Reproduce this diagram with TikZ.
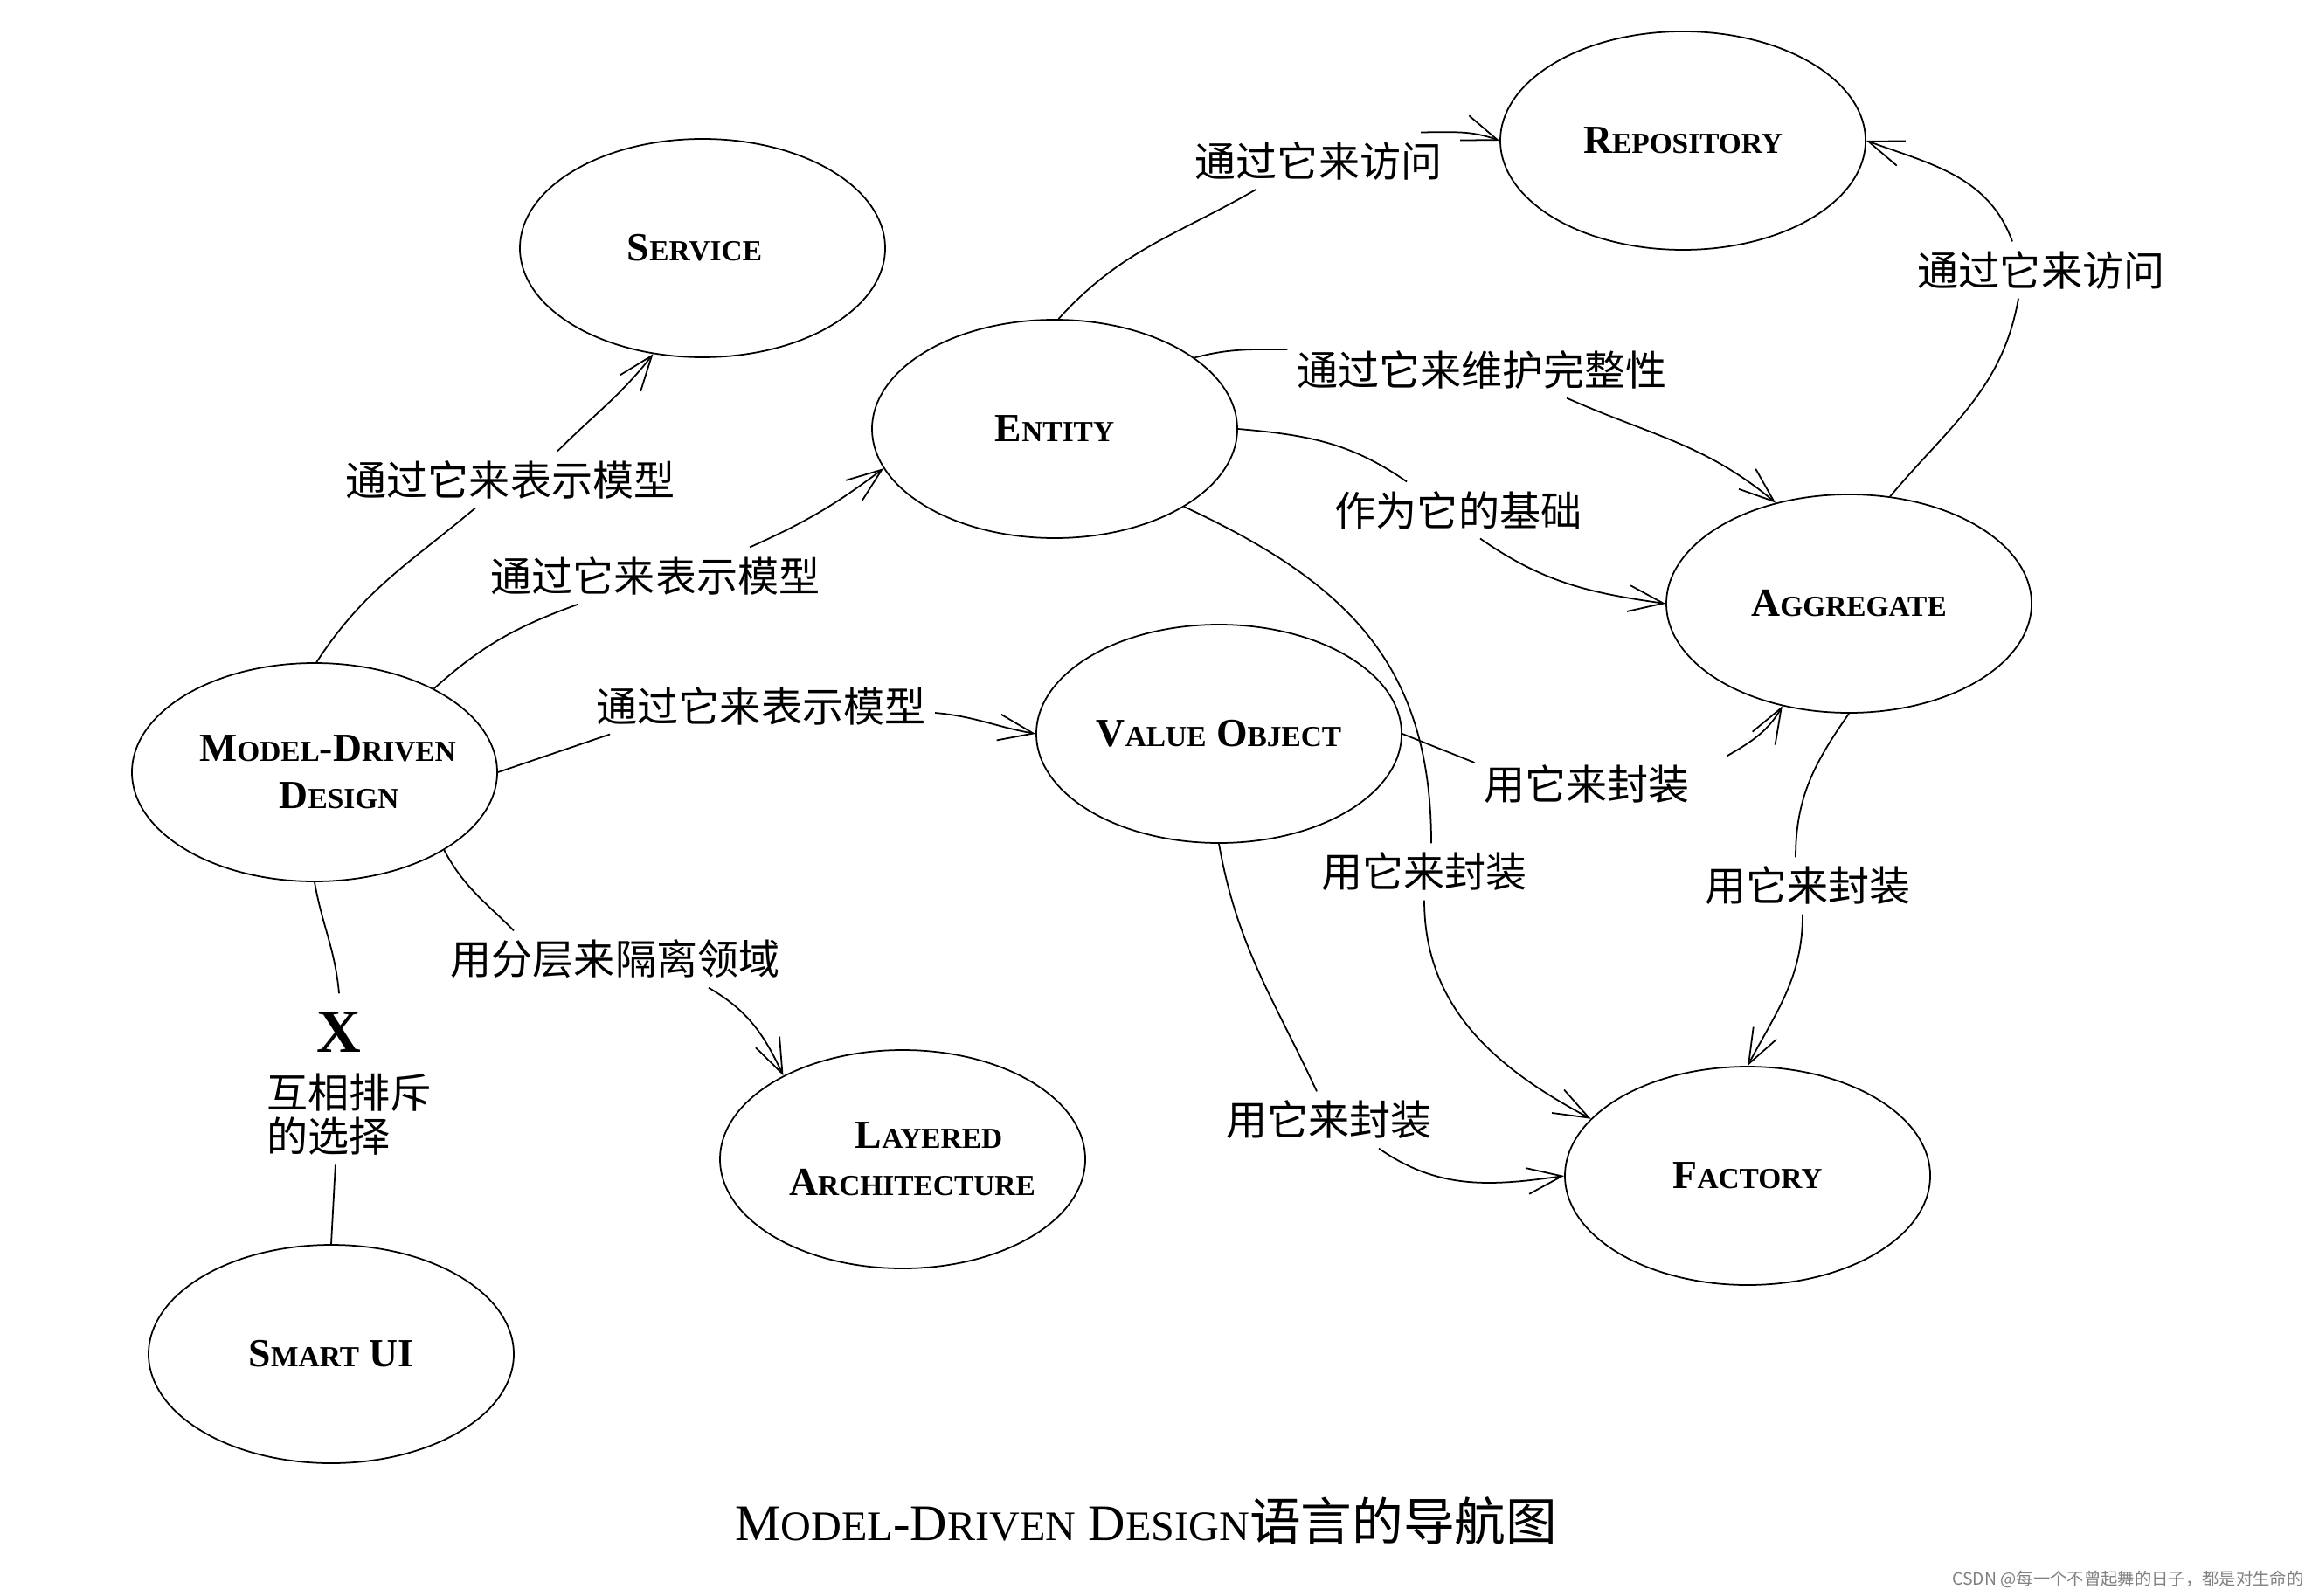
\documentclass[tikz,border=0pt]{standalone}
\usepackage{fontspec}
\setmainfont{Liberation Serif}
\newfontfamily\cjk{Noto Sans CJK SC}
\usetikzlibrary{arrows.meta,shapes.geometric}
\newcommand{\scword}[3][9.5]{#2{\fontsize{#1}{#1}\selectfont #3}}

\begin{document}
\begin{tikzpicture}[
  concept/.style={ellipse,draw,line width=0.5pt,minimum width=4.18cm,
    minimum height=2.5cm,inner sep=0pt,align=center,
    font=\bfseries\fontsize{13}{15.4}\selectfont},
  relation/.style={inner sep=1mm,font=\cjk\fontsize{13.4}{14.2}\selectfont},
  link/.style={line width=0.5pt},
  flow/.style={-{Straight Barb[length=4mm,width=3mm]},line width=0.5pt}
]
\useasboundingbox (0,0) rectangle (26.54,18.26);
\node[concept] (service) at (8.04,15.42) {\scword{S}{ERVICE}\kern1.8mm};
\node[concept] (repo) at (19.26,16.65) {\scword{R}{EPOSITORY}};
\node[concept] (entity) at (12.07,13.35) {\scword{E}{NTITY}};
\node[concept] (agg) at (21.16,11.35) {\scword{A}{GGREGATE}};
\node[concept] (mdd) at (3.60,9.42)
  {\scword{M}{ODEL}-\scword{D}{RIVEN}\kern-3mm\\\scword{D}{ESIGN}\kern-5.6mm};
\node[concept] (vo) at (13.95,9.86) {\scword{V}{ALUE} \scword{O}{BJECT}};
\node[concept] (layered) at (10.33,4.99)
  {\scword{L}{AYERED}\kern-6mm\\\scword{A}{RCHITECTURE}\kern-2.2mm};
\node[concept] (factory) at (20.00,4.80) {\scword{F}{ACTORY}};
\node[concept] (smartui) at (3.79,2.76) {\scword{S}{MART} UI};

\node[relation] (l1) at (5.84,12.77) {通过它来表示模型};
\node[relation] (l2) at (7.50,11.67) {通过它来表示模型};
\node[relation] (l3) at (8.71,10.18) {通过它来表示模型};
\node[relation] (l4) at (7.04,7.28) {用分层来隔离领域};
\node[inner sep=2mm,font=\bfseries\fontsize{20}{20}\selectfont] (xmark) at (3.88,6.45) {X};
\node[relation,anchor=west,align=left] (xorlbl) at (2.95,5.50) {互相排斥\\的选择};
\node[relation] (l5) at (15.09,16.42) {通过它来访问};
\node[relation] (l6) at (16.96,14.03) {通过它来维护完整性};
\node[relation] (l7) at (16.69,12.42) {作为它的基础};
\node[relation] (l8) at (23.36,15.17) {通过它来访问};
\node[relation] (l9) at (18.16,9.28) {用它来封装};
\node[relation] (l10) at (16.30,8.28) {用它来封装};
\node[relation] (l11) at (20.69,8.12) {用它来封装};
\node[relation] (l12) at (15.21,5.44) {用它来封装};

\draw[link] (mdd.89) to[out=57,in=220] ([xshift=-4mm]l1.south);
\draw[flow] ([xshift=5.4mm]l1.north) to[out=45,in=232] (service.245);
\draw[link] (mdd.35) to[out=42,in=200] ([xshift=-8.8mm]l2.south);
\draw[flow] ([xshift=10.8mm]l2.north) to[out=24,in=217] (entity.193);
\draw[link] (mdd.east) -- ([xshift=-17.3mm]l3.south);
\draw[flow] ([yshift=-0.8mm]l3.east) to[out=-5,in=170] (vo.west);
\draw[link] (mdd.-31) to[out=-62,in=135] ([xshift=-11.6mm]l4.north);
\draw[flow] ([xshift=10.7mm]l4.south) to[out=-30,in=115] (layered.145);
\draw[link] (mdd.south) to[out=-80,in=95] (xmark.north);
\draw[link] ([xshift=-1.6mm]xorlbl.south) -- (smartui.north);

\draw[link] (entity.88) to[out=48,in=210] ([xshift=-7.1mm]l5.south);
\draw[flow] ([xshift=11.7mm]l5.north) to[out=0,in=160] (repo.west);
\draw[link] (entity.27) to[out=15,in=180] ([yshift=2.3mm]l6.west);
\draw[flow] ([xshift=9.7mm]l6.south) to[out=-24,in=140] (agg.126);
\draw[link] (entity.east) to[out=-5,in=145] ([xshift=-5.9mm]l7.north);
\draw[flow] ([xshift=2.5mm]l7.south) to[out=-35,in=172] (agg.west);
\draw[link] (agg.69) to[out=50,in=-100] ([xshift=-2.6mm]l8.south);
\draw[flow] ([xshift=-3.3mm]l8.north) to[out=110,in=-20] (repo.east);
\draw[link] (vo.east) -- ([yshift=2.5mm]l9.west);
\draw[flow] ([xshift=3.2mm]l9.north east) to[out=30,in=-120] (agg.237);
\draw[link] (entity.-31) to[out=-25,in=90,looseness=1.1] ([xshift=0.8mm]l10.north);
\draw[flow] (l10.south) to[out=-90,in=152] (factory.160);
\draw[link] (agg.south) to[out=-125,in=90] ([xshift=-1.4mm]l11.north);
\draw[flow] ([xshift=-0.6mm]l11.south) to[out=-90,in=62] (factory.north);
\draw[link] (vo.south) to[out=-80,in=115] ([xshift=-1.4mm]l12.north);
\draw[flow] ([xshift=5.7mm]l12.south) to[out=-35,in=188] (factory.west);

\node[font=\fontsize{16.7}{20}\selectfont] (caption) at (13.12,0.85)
  {\scword[13.7]{M}{ODEL}-\scword[13.7]{D}{RIVEN} \scword[13.7]{D}{ESIGN}{\cjk 语言的导航图}};
\node[anchor=east,inner sep=0pt,text=gray,font=\cjk\fontsize{5.5}{6}\selectfont] (credit) at (26.37,0.18)
  {CSDN @每一个不曾起舞的日子，都是对生命的};
\end{tikzpicture}
\end{document}
